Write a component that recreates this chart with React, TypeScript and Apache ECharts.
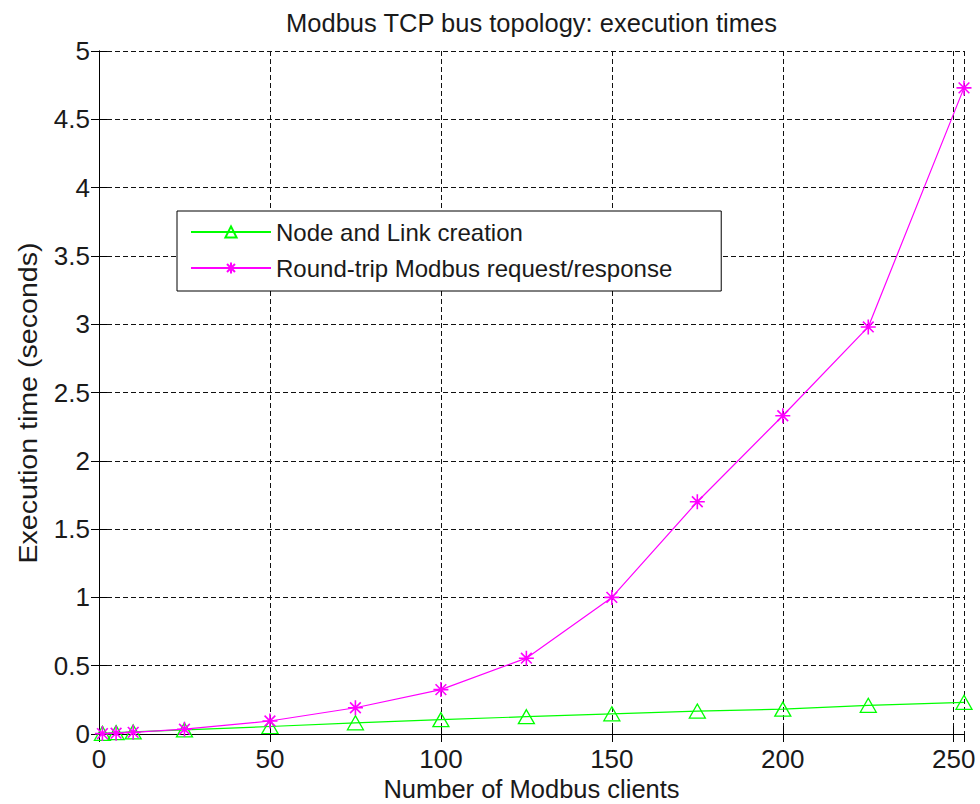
import React, { useEffect, useRef } from "react";
import * as echarts from "echarts";

const clients = [1, 5, 10, 25, 50, 75, 100, 125, 150, 175, 200, 225, 253];
const nodeLinkCreation = [0.005, 0.01, 0.015, 0.03, 0.055, 0.082, 0.105, 0.127, 0.148, 0.168, 0.182, 0.21, 0.232];
const roundTrip = [0.003, 0.006, 0.012, 0.035, 0.095, 0.192, 0.325, 0.555, 1.0, 1.7, 2.33, 2.98, 4.73];
const seriesNames = ["Node and Link creation", "Round-trip Modbus request/response"];
const titleText = "Modbus TCP bus topology: execution times";
const xLabel = "Number of Modbus clients";
const yLabel = "Execution time (seconds)";

const FONT = "Liberation Sans, Arial, sans-serif";
const TXT = "#1a1a1a";

export default function App() {
  const ref = useRef<HTMLDivElement>(null);
  useEffect(() => {
    document.body.style.margin = "0";
    const chart = echarts.init(ref.current!, null, { renderer: "svg" });
    const gridL = 99, gridR = 16, gridT = 51, gridB = 70;
    const cx = (gridL + (980 - gridR)) / 2;
    const axisCommon = {
      axisLine: { show: true, lineStyle: { color: "#000", width: 1 } },
      axisTick: { show: true, inside: true, length: 8, lineStyle: { color: "#000" } },
    };
    const gridLine = { show: true, lineStyle: { color: "#111", type: [5, 3], width: 1 } };
    chart.setOption({
      animation: false,
      backgroundColor: "#fff",
      grid: { left: gridL, right: gridR, top: gridT, bottom: gridB, containLabel: false },
      graphic: [
        {
          type: "text",
          x: cx,
          y: 23,
          style: { text: titleText, font: `25.5px ${FONT}`, fill: TXT, textAlign: "center", textVerticalAlign: "middle" },
        },
        {
          type: "text",
          x: cx,
          y: 789,
          style: { text: xLabel, font: `25.5px ${FONT}`, fill: TXT, textAlign: "center", textVerticalAlign: "middle" },
        },
        {
          type: "text",
          x: 28,
          y: 403,
          rotation: Math.PI / 2,
          scaleX: 1.1,
          style: { text: yLabel, font: `26px ${FONT}`, fill: TXT, textAlign: "center", textVerticalAlign: "middle" },
        },
      ],
      legend: {
        orient: "vertical",
        left: 177,
        top: 211,
        backgroundColor: "#fff",
        borderColor: "#000",
        borderWidth: 1,
        borderRadius: 0,
        padding: [9, 49, 11, 13],
        itemGap: 12,
        itemWidth: 80,
        itemHeight: 14,
        textStyle: { fontSize: 24, fontFamily: FONT, color: TXT },
        data: seriesNames,
      },
      xAxis: [
        {
          type: "value",
          min: 0,
          max: 253,
          interval: 50,
          position: "bottom",
          ...axisCommon,
          axisLabel: {
            fontSize: 26,
            fontFamily: FONT,
            color: TXT,
            margin: 12,
            showMaxLabel: false,
            formatter: (v: number) => (v % 50 === 0 ? String(v) : ""),
          },
          splitLine: gridLine,
        },
        {
          type: "value",
          min: 0,
          max: 253,
          interval: 50,
          position: "top",
          ...axisCommon,
          axisLabel: { show: false },
          splitLine: { show: false },
        },
      ],
      yAxis: [
        {
          type: "value",
          min: 0,
          max: 5,
          interval: 0.5,
          position: "left",
          ...axisCommon,
          axisLabel: { fontSize: 26, fontFamily: FONT, color: TXT, margin: 9 },
          splitLine: gridLine,
        },
        {
          type: "value",
          min: 0,
          max: 5,
          interval: 0.5,
          position: "right",
          ...axisCommon,
          axisLabel: { show: false },
          splitLine: { show: false },
        },
      ],
      series: [
        {
          name: seriesNames[0],
          type: "line",
          data: clients.map((c, i) => [c, nodeLinkCreation[i]]),
          symbol: "triangle",
          symbolSize: [16, 14],
          showAllSymbol: true,
          lineStyle: { color: "#00ff00", width: 1.2 },
          itemStyle: { color: "rgba(0,0,0,0)", borderColor: "#00ff00", borderWidth: 1.3 },
          z: 3,
        },
        {
          name: seriesNames[1],
          type: "line",
          data: clients.map((c, i) => [c, roundTrip[i]]),
          symbol: "path://M7,0L7,14M0,7L14,7M2,2L12,12M2,12L12,2",
          symbolSize: 15,
          showAllSymbol: true,
          lineStyle: { color: "#ff00ff", width: 1.2 },
          itemStyle: { color: "#ff00ff", borderColor: "#ff00ff", borderWidth: 1.6 },
          z: 4,
        },
      ],
    });
    return () => chart.dispose();
  }, []);
  return <div ref={ref} style={{ width: 980, height: 804, position: "absolute", left: 0, top: 0 }} />;
}
